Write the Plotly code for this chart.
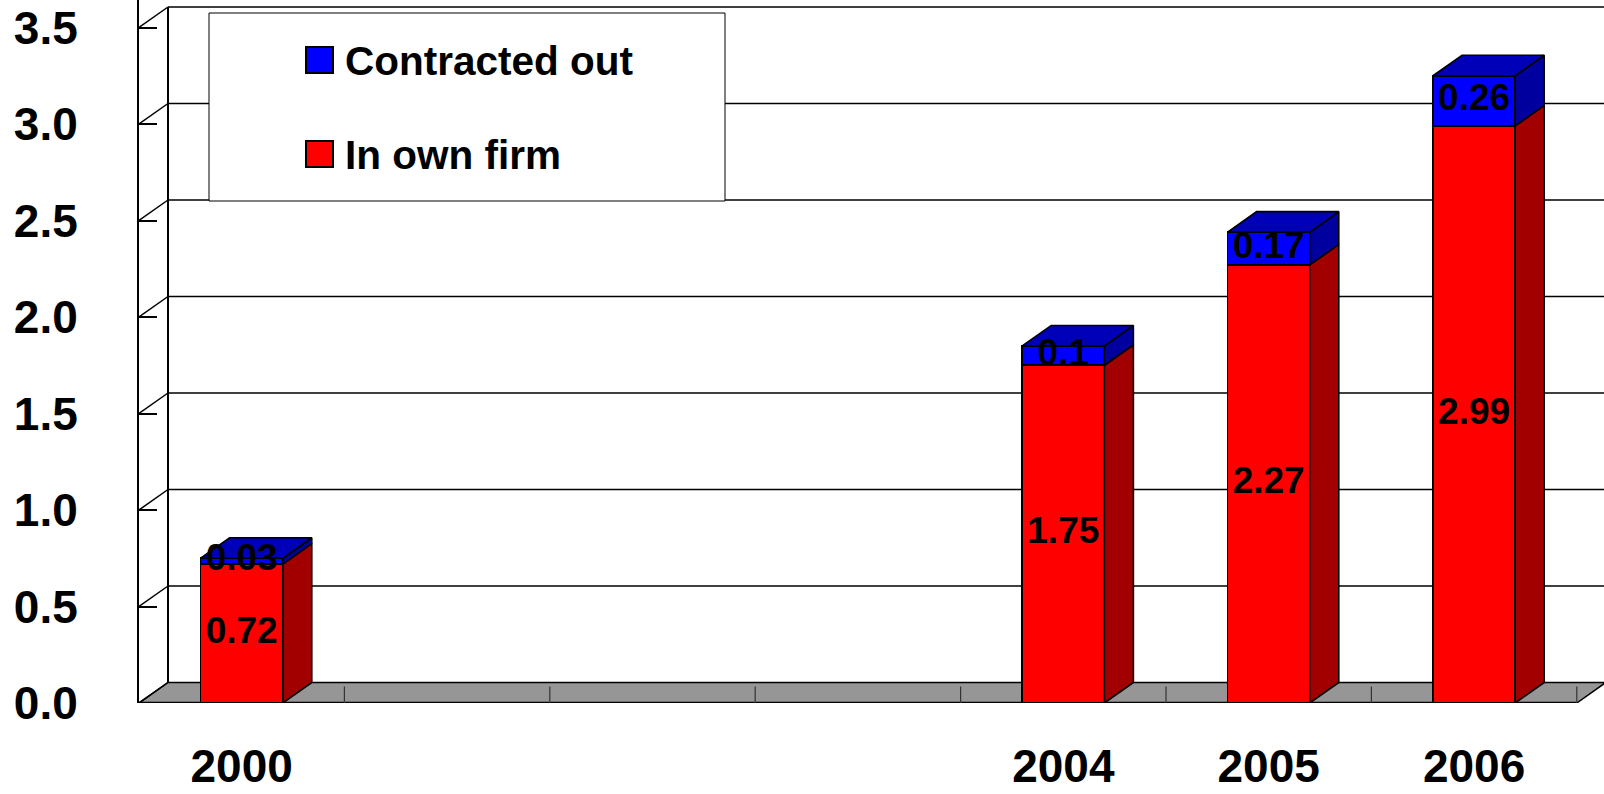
import plotly.graph_objects as go

# ---------------- data ----------------
years = [2000, 2004, 2005, 2006]
year_labels = ["2000", "2004", "2005", "2006"]
in_own_firm = [0.72, 1.75, 2.27, 2.99]
contracted_out = [0.03, 0.10, 0.17, 0.26]
own_labels = ["0.72", "1.75", "2.27", "2.99"]
contracted_labels = ["0.03", "0.1", "0.17", "0.26"]
y_ticks = [0.0, 0.5, 1.0, 1.5, 2.0, 2.5, 3.0, 3.5]
y_tick_labels = ["0.0", "0.5", "1.0", "1.5", "2.0", "2.5", "3.0", "3.5"]
first_year, last_year = 2000, 2006

# ---------------- style / geometry ----------------
W, H = 1604, 794
ML, MR, MT, MB = 139, 0, 0, 91
PX_PER_YEAR = 205.4
PX_PER_UNIT = 193.0
DEPTH_PX_X, DEPTH_PX_Y = 29.0, 20.5
DX = DEPTH_PX_X / PX_PER_YEAR
DY = DEPTH_PX_Y / PX_PER_UNIT
BAR_W = 0.4
X0 = first_year - 0.5
X1 = X0 + (W - ML - MR) / PX_PER_YEAR
XEND = last_year + 0.5
Y1 = (H - MT - MB) / PX_PER_UNIT
YMAX = y_ticks[-1]

RED, RED_SIDE = "#FF0000", "#A20000"
BLUE, BLUE_TOP, BLUE_SIDE = "#0000FF", "#0000B8", "#00009E"
FLOOR = "#969696"
AX_FONT = "Liberation Sans Narrow, Arial Narrow, Liberation Sans, Arial, sans-serif"
LBL_FONT = "Liberation Sans, Arial, sans-serif"
EDGE = dict(color="black", width=1.6)

fig = go.Figure()

# front faces (stacked bars)
fig.add_trace(go.Bar(x=years, y=in_own_firm, width=BAR_W, marker=dict(color=RED, line=EDGE),
                     name="In own firm", showlegend=False, hoverinfo="skip"))
fig.add_trace(go.Bar(x=years, y=contracted_out, width=BAR_W, marker=dict(color=BLUE, line=EDGE),
                     name="Contracted out", showlegend=False, hoverinfo="skip"))


def poly(xs, ys, color):
    fig.add_trace(go.Scatter(x=xs + [xs[0]], y=ys + [ys[0]], mode="lines", fill="toself",
                             fillcolor=color, line=EDGE, showlegend=False, hoverinfo="skip"))


for yr, own, con in zip(years, in_own_firm, contracted_out):
    xr = yr + BAR_W / 2
    xl = yr - BAR_W / 2
    tot = own + con
    # side faces
    poly([xr, xr + DX, xr + DX, xr], [0, DY, own + DY, own], RED_SIDE)
    poly([xr, xr + DX, xr + DX, xr], [own, own + DY, tot + DY, tot], BLUE_SIDE)
    # top face
    poly([xl, xr, xr + DX, xl + DX], [tot, tot, tot + DY, tot + DY], BLUE_TOP)

# data labels
fig.add_trace(go.Scatter(x=years, y=[v / 2 for v in in_own_firm], text=own_labels, mode="text",
                         textposition="middle center",
                         textfont=dict(family=LBL_FONT, size=37, color="black", weight="bold"),
                         showlegend=False, hoverinfo="skip"))
fig.add_trace(go.Scatter(x=years, y=[o + c / 2 for o, c in zip(in_own_firm, contracted_out)],
                         text=contracted_labels, mode="text", textposition="middle center",
                         textfont=dict(family=LBL_FONT, size=37, color="black", weight="bold"),
                         showlegend=False, hoverinfo="skip"))

shapes = []
LINE = dict(color="black", width=1.5)
# floor
shapes.append(dict(type="path", xref="x", yref="y", layer="below",
                   path=f"M{X0},0 L{XEND},0 L{XEND + DX},{DY} L{X0 + DX},{DY} Z",
                   fillcolor=FLOOR, line=dict(color="black", width=1.5)))
shapes.append(dict(type="line", xref="x", yref="y", layer="below", x0=X0, x1=XEND, y0=0, y1=0,
                   line=dict(color="black", width=2.5)))
# floor category ticks
for k in range(1, last_year - first_year + 2):
    xb = X0 + k
    shapes.append(dict(type="line", xref="x", yref="y", layer="below", x0=xb, x1=xb, y0=0, y1=0.085,
                       line=dict(color="#333333", width=1.2)))
# back wall gridlines and left-wall diagonals
for v in y_ticks:
    if v > 0:
        shapes.append(dict(type="line", xref="x", yref="y", layer="below", x0=X0 + DX, x1=XEND + DX,
                           y0=v + DY, y1=v + DY, line=LINE))
    shapes.append(dict(type="line", xref="x", yref="y", layer="below", x0=X0, x1=X0 + DX,
                       y0=v, y1=v + DY, line=LINE))
# back wall left edge
shapes.append(dict(type="line", xref="x", yref="y", layer="below", x0=X0 + DX, x1=X0 + DX,
                   y0=DY, y1=YMAX + DY, line=dict(color="black", width=2)))

# legend (custom, pixel-positioned box)
def px_x(p):
    return (p - ML) / (W - ML - MR)


def px_y(p):
    return (H - MB - p) / (H - MT - MB)


shapes.append(dict(type="rect", xref="paper", yref="paper", layer="above",
                   x0=px_x(209), x1=px_x(725), y0=px_y(201), y1=px_y(13),
                   fillcolor="white", line=dict(color="black", width=1)))
legend_items = [("Contracted out", BLUE, 60), ("In own firm", RED, 154)]
annotations = []
for name, col, cy in legend_items:
    shapes.append(dict(type="rect", xref="paper", yref="paper", layer="above",
                       x0=px_x(306), x1=px_x(333), y0=px_y(cy + 13), y1=px_y(cy - 13),
                       fillcolor=col, line=dict(color="black", width=2)))
    annotations.append(dict(xref="paper", yref="paper", x=px_x(343), y=px_y(cy + 1), text=name,
                            showarrow=False, xanchor="left", yanchor="middle",
                            font=dict(family=AX_FONT, size=40.5, color="black", weight="bold")))

fig.update_layout(
    width=W, height=H, margin=dict(l=ML, r=MR, t=MT, b=MB, autoexpand=False),
    paper_bgcolor="white", plot_bgcolor="white",
    barmode="stack", showlegend=False,
    shapes=shapes, annotations=annotations,
    xaxis=dict(range=[X0, X1], tickvals=years, ticktext=year_labels, showgrid=False,
               zeroline=False, showline=False, ticks="", ticklabelstandoff=32,
               automargin=False, ticklabeloverflow="allow",
               tickfont=dict(family=AX_FONT, size=46, color="black", weight="bold")),
    yaxis=dict(range=[0, Y1], tickvals=y_ticks, ticktext=y_tick_labels, showgrid=False,
               zeroline=False, showline=True, linecolor="black", linewidth=2,
               ticks="inside", ticklen=18, tickwidth=1.5, tickcolor="black",
               ticklabelstandoff=50, automargin=False, ticklabeloverflow="allow",
               tickfont=dict(family=AX_FONT, size=46, color="black", weight="bold")),
)

fig.write_html("out.html", config={"displayModeBar": False},
               post_script="document.body.style.margin='0px';")
